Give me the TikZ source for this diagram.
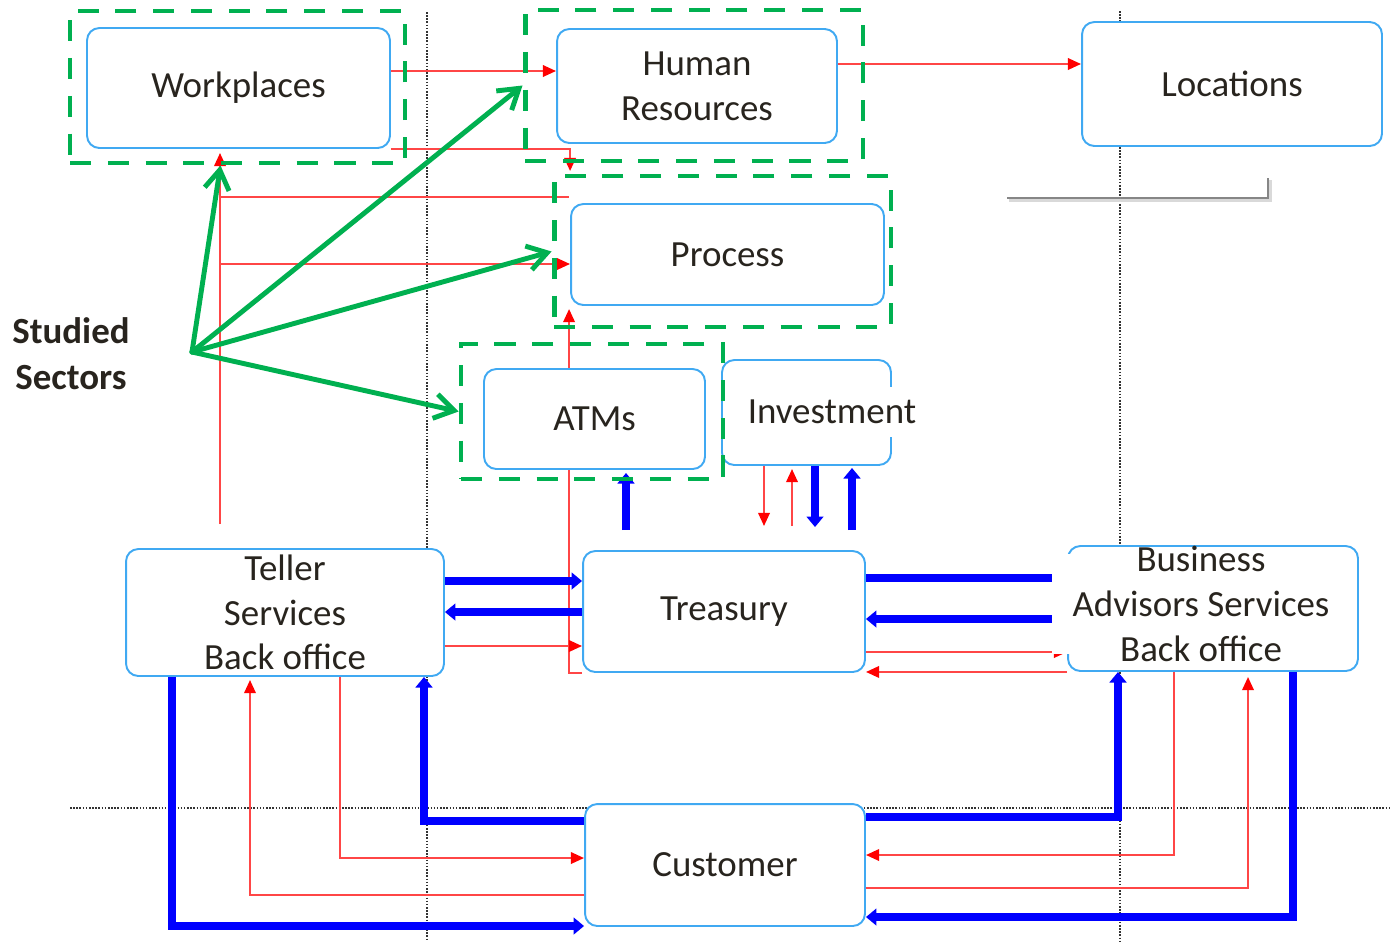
\documentclass[tikz,border=0pt]{standalone}
\usepackage{fontspec}
\setmainfont{Carlito}
\usetikzlibrary{arrows.meta,calc}
\pgfdeclarelayer{back}
\pgfsetlayers{back,main}
\definecolor{boxblue}{RGB}{64,169,242}
\definecolor{grpgreen}{RGB}{0,176,80}
\definecolor{flowblue}{RGB}{0,0,255}
\definecolor{flowred}{RGB}{255,70,70}
\definecolor{tipred}{RGB}{255,0,0}
\definecolor{txt}{RGB}{40,36,30}
\begin{document}
\begin{tikzpicture}[x=0.02cm,y=-0.02cm,
  lbl/.style={font=\fontsize{21pt}{25.5pt}\selectfont, text=txt, align=center},
  box/.style={lbl, draw=boxblue, line width=1.1pt, rounded corners=7pt, fill=white, inner sep=0pt},
  txtfill/.style={lbl, fill=white},
  grpframe/.style={draw=grpgreen, line width=2.8pt, dash pattern=on 12pt off 9.5pt, inner sep=0pt},
  garr/.style={draw=grpgreen, line width=2.8pt, line cap=round, -{Straight Barb[length=11pt,width=14pt]}},
  rline/.style={draw=flowred, line width=1.3pt},
  rarr/.style={rline, -{Triangle[length=7.5pt,width=6.5pt,color=tipred]}},
  bline/.style={draw=flowblue, line width=4.25pt},
  barr/.style={bline, -{Triangle[length=6pt,width=9.5pt]}},
  dotln/.style={draw=black!80, line width=0.7pt, dash pattern=on 0.9pt off 0.9pt}]
\useasboundingbox (0,0) rectangle (1391,941);

% swimlane guides
\begin{pgfonlayer}{back}
\draw[dotln] (427,12) -- (427,941);
\draw[dotln] (1120,11) -- (1120,941);
\draw[dotln] (70,808) -- (1391,808);
\end{pgfonlayer}

% grey bracket
\draw[gray!30, line width=2.8pt] (1009,200) -- (1270,200) -- (1270,180);
\draw[gray!95, line width=1.6pt] (1007,198) -- (1268,198) -- (1268,178);

% boxes
\node[box, minimum width=6.06cm, minimum height=2.40cm] (wp)   at (238.5,88)    {Workplaces};
\node[box, minimum width=5.60cm, minimum height=2.28cm] (hr)   at (697,86)      {Human\\Resources};
\node[box, minimum width=6.00cm, minimum height=2.48cm] (loc)  at (1232,84)     {Locations};
\node[box, minimum width=6.26cm, minimum height=2.02cm] (proc) at (727.5,254.5) {Process};
\node[box, minimum width=4.42cm, minimum height=2.00cm] (atm)  at (594.5,419)   {ATMs};
\node[box, minimum width=3.38cm, minimum height=2.10cm] (inv)  at (806.5,412.5) {};
\node[box, minimum width=6.36cm, minimum height=2.54cm] (tel)  at (285,612.5)   {Teller\\Services\\Back office};
\node[box, minimum width=5.64cm, minimum height=2.42cm] (tre)  at (724,611.5)   {Treasury};
\node[box, minimum width=5.80cm, minimum height=2.50cm] (ba)   at (1213,608.5)  {};
\node[box, minimum width=5.60cm, minimum height=2.44cm] (cus)  at (725,865)     {Customer};

% blue flows
\draw[barr] ($(tel.east)+(0,-31.5)$) coordinate (b1) -- (b1 -| tre.west);
\draw[barr] ($(tre.west)+(0,0.5)$) coordinate (b2) -- (b2 -| tel.east);
\draw[bline] ($(tre.east)+(0,-33.5)$) coordinate (b3) -- (b3 -| ba.west);
\draw[barr] ($(ba.west)+(0,10.5)$) coordinate (b4) -- (b4 -| tre.east);
\draw[barr] ($(tel.south)+(-113,0)$) |- ($(cus.west)+(0,61)$);
\draw[barr] ($(cus.west)+(0,-44)$) -| ($(tel.south)+(139,0)$);
\draw[barr] ($(cus.east)+(0,-48)$) -| ($(ba.south)+(-95,0)$);
\draw[barr] ($(ba.south)+(80,0)$) |- ($(cus.east)+(0,52)$);
\coordinate (i3) at ($(inv.south)+(8.5,0)$);
\draw[barr, shorten >=0.46cm] (i3) -- (i3 |- tre.north);
\coordinate (i4) at ($(inv.south)+(45.5,2)$);
\draw[barr, shorten <=0.40cm] (i4 |- tre.north) -- (i4);
\coordinate (i5) at ($(atm.south)+(31.5,3)$);
\draw[barr, shorten <=0.40cm] (i5 |- tre.north) -- (i5);

% red flows
\draw[rarr] ($(wp.east)+(0,-17)$) coordinate (a1) -- (a1 -| hr.west);
\draw[rarr] ($(hr.east)+(0,-22)$) coordinate (a2) -- (a2 -| loc.west);
\draw[rarr] (wp.south east) -| ($(proc.north west)+(0,-32)$);
\coordinate (wpin) at ($(wp.south)+(-18.5,4)$);
\coordinate (pa) at ($(proc.north west)+(-1,-6)$);
\coordinate (pb) at ($(proc.west)+(0,9.5)$);
\draw[rarr, shorten <=0.48cm] (wpin |- tel.north) -- (wpin);
\draw[rline] (wpin |- pa) -- (pa);
\draw[rarr] (wpin |- pb) -- (pb);
% this one runs behind the ATMs box
\begin{pgfonlayer}{back}
\draw[rarr] (tre.south west) -| ($(proc.south west)+(-1,3)$);
\end{pgfonlayer}
\draw[rarr] ($(tel.east)+(0,33.5)$) coordinate (a3) -- (a3 -| tre.west);
\draw[rarr] ($(tre.east)+(0,40.5)$) coordinate (a4) -- (a4 -| ba.west);
\draw[rarr] (ba.south west) -- (ba.south west -| tre.east);
\coordinate (i1) at ($(inv.south)+(-42.5,0)$);
\draw[rarr, shorten >=0.48cm] (i1) -- (i1 |- tre.north);
\coordinate (i2) at ($(inv.south)+(-14.5,3)$);
\draw[rarr, shorten <=0.48cm] (i2 |- tre.north) -- (i2);
\draw[rarr] ($(tel.south)+(55,0)$) |- ($(cus.west)+(0,-7)$);
\draw[rarr] ($(cus.west)+(0,30)$) -| ($(tel.south)+(-35,3)$);
\draw[rarr] ($(ba.south)+(-39,0)$) |- ($(cus.east)+(0,-10)$);
\draw[rarr] ($(cus.east)+(0,23)$) -| ($(ba.south)+(35,5)$);

% labels set over their box borders
\node[txtfill, inner xsep=0.04cm, inner ysep=0.27cm] (invtext) at (832,412) {Investment};
\node[txtfill, minimum width=5.96cm, inner xsep=0pt, inner ysep=-0.16cm] (batext) at (1201,604)
  {Business\\Advisors Services\\Back office};

% studied sectors
\node[grpframe, minimum width=6.70cm, minimum height=3.04cm] (gwp)   at (237.5,87)    {};
\node[grpframe, minimum width=6.76cm, minimum height=3.02cm] (ghr)   at (694,85.5)    {};
\node[grpframe, minimum width=6.74cm, minimum height=3.02cm] (gproc) at (722.5,251.5) {};
\node[grpframe, minimum width=5.24cm, minimum height=2.70cm] (gatm)  at (592,411.5)   {};

\node[font=\bfseries\fontsize{21pt}{26pt}\selectfont, text=txt, align=center] (sectors) at (71,354) {Studied\\Sectors};
\coordinate (ss) at (192,352);
\draw[garr] (ss) -- ($(gwp.south)+(-17,0)$);
\draw[garr] (ss) -- (ghr.west);
\draw[garr] (ss) -- (gproc.west);
\draw[garr] (ss) -- (gatm.west);
\end{tikzpicture}
\end{document}
